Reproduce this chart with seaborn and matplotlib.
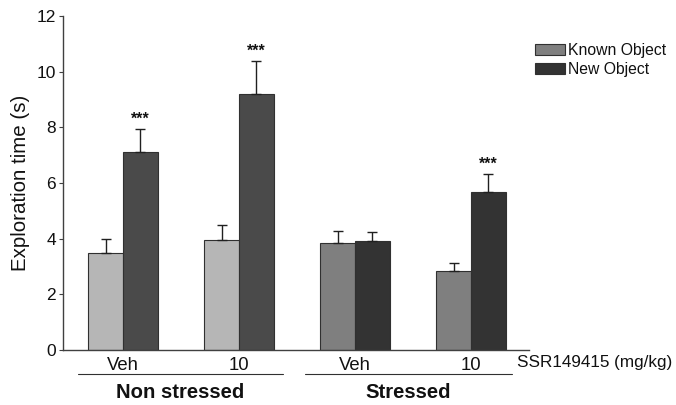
import matplotlib
matplotlib.use("Agg")
import matplotlib.pyplot as plt
import matplotlib.transforms as mtransforms
from matplotlib.patches import Patch
import numpy as np
import pandas as pd
import seaborn as sns

# Exploration times (s): mean and SEM per group and object
groups = ["NS-Veh", "NS-10", "S-Veh", "S-10"]
dose_labels = ["Veh", "10", "Veh", "10"]
objects = ["Known Object", "New Object"]
known_mean = [3.50, 3.95, 3.86, 2.83]
known_sem = [0.48, 0.54, 0.43, 0.29]
new_mean = [7.13, 9.21, 3.92, 5.67]
new_sem = [0.82, 1.19, 0.31, 0.64]
significant_new = [True, True, False, True]
condition_labels = ["Non stressed", "Stressed"]

# Bar fills: light/dark for non-stressed, mid/darker for stressed
known_colors = ["#b6b6b6", "#b6b6b6", "#7f7f7f", "#7f7f7f"]
new_colors = ["#4a4a4a", "#4a4a4a", "#333333", "#333333"]

df = pd.DataFrame({
    "group": groups * 2,
    "object": [objects[0]] * 4 + [objects[1]] * 4,
    "time": known_mean + new_mean,
    "sem": known_sem + new_sem,
})

sns.set_style("ticks")
plt.rcParams["font.family"] = ["Liberation Sans", "DejaVu Sans"]
plt.rcParams["text.color"] = "#111111"
plt.rcParams["axes.labelcolor"] = "#111111"
plt.rcParams["xtick.color"] = "#111111"
plt.rcParams["ytick.color"] = "#111111"

fig = plt.figure(figsize=(6.76, 4.05), dpi=100)
ax = fig.add_axes([0.0932, 0.1358, 0.6893, 0.8247])

sns.barplot(data=df, x="group", y="time", hue="object", order=groups,
            hue_order=objects, width=0.6, gap=0, errorbar=None,
            edgecolor="#303030", linewidth=0.8, legend=False, ax=ax)

# Recolour bars per condition and add one-sided SEM bars
bars = [p for p in ax.patches if p.get_height() > 0]
fills = known_colors + new_colors
for bar, color, (_, row) in zip(bars, fills, df.iterrows()):
    bar.set_facecolor(color)
    xc = bar.get_x() + bar.get_width() / 2
    ax.errorbar(xc, row["time"], yerr=[[0], [row["sem"]]], fmt="none",
                ecolor="#202020", elinewidth=1.0, capsize=3.6, capthick=1.0,
                zorder=1)

# Significance markers over the new-object bars
for i, sig in enumerate(significant_new):
    if sig:
        bar = bars[4 + i]
        xc = bar.get_x() + bar.get_width() / 2
        ax.text(xc, new_mean[i] + new_sem[i] + 0.08, "***", ha="center",
                va="bottom", fontsize=11.5, fontweight="bold",
                color="#111111")

ax.set_xlim(-0.517, 3.5)
ax.set_ylim(0, 12)
ax.set_yticks(np.arange(0, 13, 2))
ax.set_xticks(range(4))
ax.set_xticklabels(dose_labels)
ax.set_xlabel("")
ax.set_ylabel("Exploration time (s)", fontsize=14.8, labelpad=5)
ax.tick_params(axis="y", length=3, width=0.8, labelsize=12.5, pad=2,
               color="#404040")
ax.tick_params(axis="x", length=0, labelsize=13.3, pad=5)
for side in ["left", "bottom"]:
    ax.spines[side].set_color("#404040")
    ax.spines[side].set_linewidth(1.0)
sns.despine(ax=ax)

# Condition brackets below the dose labels
trans = mtransforms.blended_transform_factory(ax.transData, ax.transAxes)
spans = [(-0.39, 1.38), (1.57, 3.35)]
for (x0, x1), label in zip(spans, condition_labels):
    ax.plot([x0, x1], [-0.073, -0.073], transform=trans, color="#303030",
            lw=0.8, clip_on=False)
    ax.text((x0 + x1) / 2, -0.128, label, transform=trans, ha="center",
            va="center", fontsize=14.6, fontweight="bold")

ax.text(3.40, -0.036, "SSR149415 (mg/kg)", transform=trans, ha="left",
        va="center", fontsize=12.3)

handles = [Patch(facecolor="#7f7f7f", edgecolor="#303030", lw=0.8),
           Patch(facecolor="#333333", edgecolor="#303030", lw=0.8)]
fig.legend(handles, objects, loc="upper left",
           bbox_to_anchor=(0.791, 0.895), frameon=False, fontsize=11.3,
           handlelength=1.95, handleheight=0.7, handletextpad=0.15,
           labelspacing=0.3, borderpad=0, borderaxespad=0)

fig.savefig("out.png", dpi=100)
